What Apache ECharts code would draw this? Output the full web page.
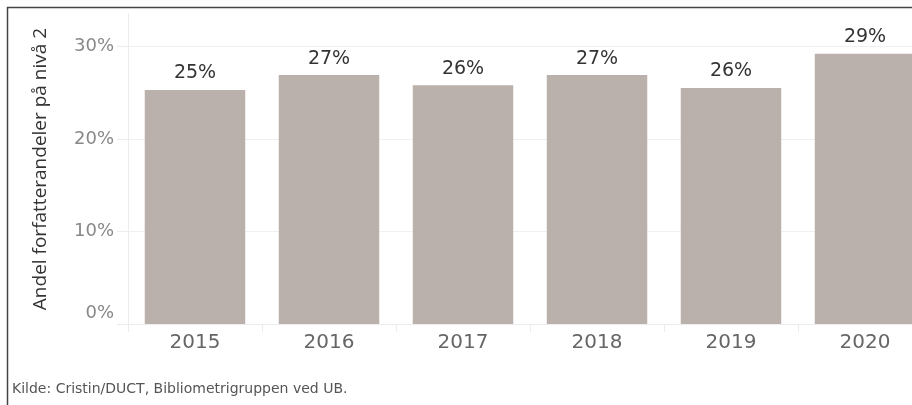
<!DOCTYPE html>
<html>
<head>
<meta charset="utf-8">
<script src="https://cdn.jsdelivr.net/npm/echarts@6/dist/echarts.min.js"></script>
<style>
  html, body { margin: 0; padding: 0; background: #fff; }
  #chart { width: 912px; height: 405px; }
</style>
</head>
<body>
<div id="chart"></div>
<script>
var years = ['2015', '2016', '2017', '2018', '2019', '2020'];
var shares = [25.3, 26.9, 25.8, 26.9, 25.5, 29.2];   // andel i prosent
var yTicks = [0, 10, 20, 30];
var axisTitle = 'Andel forfatterandeler på nivå 2';
var source = 'Kilde: Cristin/DUCT, Bibliometrigruppen ved UB.';

var chart = echarts.init(document.getElementById('chart'));
var font = '"DejaVu Sans", sans-serif';
var light = '#ececec';

var option = {
  animation: false,
  grid: {
    left: 128,
    width: 804,   // last column runs past the right edge, as in the original
    top: 14,
    bottom: 81,
    outerBoundsMode: 'none'
  },
  xAxis: {
    type: 'category',
    data: years,
    axisLine: { lineStyle: { color: light } },
    axisTick: { show: true, length: 8, lineStyle: { color: light } },
    axisLabel: {
      color: '#666',
      fontSize: 20,
      fontFamily: font,
      margin: 9
    }
  },
  yAxis: {
    type: 'value',
    min: yTicks[0],
    max: 33.5,
    interval: 10,
    name: axisTitle,
    nameLocation: 'middle',
    nameRotate: 90,
    nameGap: 78,
    nameTextStyle: { color: '#333', fontSize: 19, fontFamily: '"Open Sans", sans-serif' },
    axisLine: { show: true, lineStyle: { color: light } },
    axisTick: { show: true, length: 11, lineStyle: { color: light } },
    splitLine: { show: true, showMaxLine: false, lineStyle: { color: '#f0f0f0' } },
    axisLabel: {
      color: '#888',
      fontSize: 18,
      fontFamily: font,
      margin: 14,
      showMaxLabel: false,
      formatter: function (v) {
        // bottom label sits a little above the baseline
        return v === yTicks[0] ? '{low|' + v + '%}' : v + '%';
      },
      rich: {
        low: { color: '#888', fontSize: 18, fontFamily: font, padding: [0, 0, 22, 0] }
      }
    }
  },
  series: [
    {
      type: 'bar',
      data: shares,
      barCategoryGap: '25%',
      itemStyle: { color: '#BAB0AC' },
      label: {
        show: true,
        position: 'top',
        distance: 7,
        color: '#333',
        fontSize: 19,
        fontFamily: font,
        formatter: function (p) { return Math.round(p.value) + '%'; }
      }
    }
  ],
  graphic: [
    { type: 'line', shape: { x1: 7, y1: 7.5, x2: 912, y2: 7.5 }, style: { stroke: '#444', lineWidth: 1.5 } },
    { type: 'line', shape: { x1: 7.5, y1: 7, x2: 7.5, y2: 405 }, style: { stroke: '#444', lineWidth: 1.5 } },
    {
      type: 'text', left: 12, top: 382,
      style: { text: source, fill: '#555', fontSize: 14, fontFamily: font }
    }
  ]
};
chart.setOption(option);
</script>
</body>
</html>
